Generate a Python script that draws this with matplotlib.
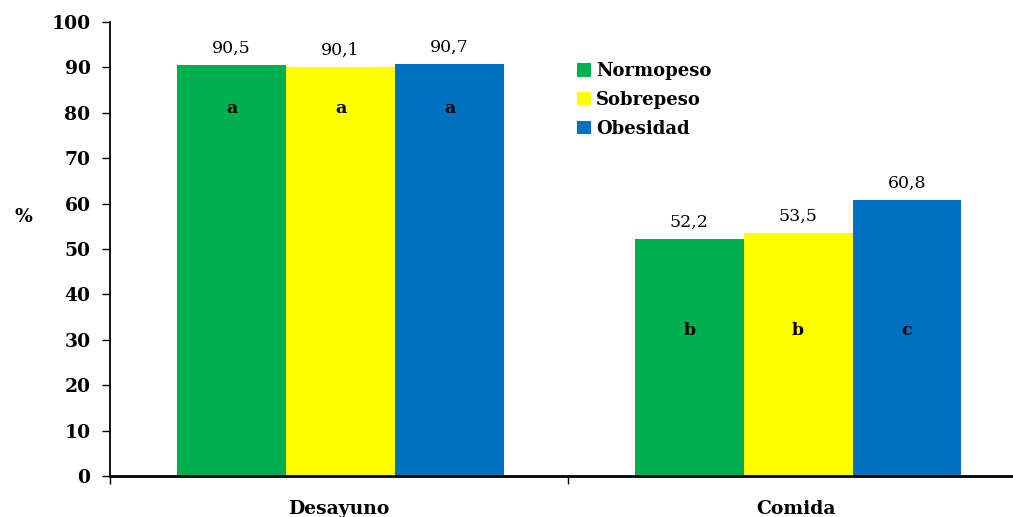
import matplotlib
matplotlib.use("Agg")
import matplotlib.pyplot as plt
import numpy as np

categories = ["Desayuno", "Comida"]
series = ["Normopeso", "Sobrepeso", "Obesidad"]
values = [
    [90.5, 52.2],
    [90.1, 53.5],
    [90.7, 60.8],
]
letters = [
    ["a", "b"],
    ["a", "b"],
    ["a", "c"],
]
colors = ["#00B050", "#FFFF00", "#0070C0"]

serif = ["DejaVu Serif"]

fig = plt.figure(figsize=(10.13, 5.17), dpi=100)
ax = fig.add_axes([110 / 1013, 1 - 476 / 517, 915 / 1013, 454 / 517])

x = np.arange(len(categories))
width = 0.238
letter_y = [81, 32]

for i, (name, vals) in enumerate(zip(series, values)):
    pos = x + (i - 1) * width + 0.004
    ax.bar(pos, vals, width, color=colors[i], label=name, zorder=2)
    for px, v, lt, ly in zip(pos, vals, letters[i], letter_y):
        ax.text(px, v + 1.8, f"{v:.1f}".replace(".", ","), ha="center", va="bottom",
                fontsize=12.5, family=serif)
        ax.text(px, ly, lt, ha="center", va="center", fontsize=12.5,
                fontweight="bold", family=serif)

ax.set_xlim(-0.5, 1.5)
ax.set_ylim(0, 100)
ax.set_yticks(np.arange(0, 101, 10))
ax.set_yticklabels([str(t) for t in range(0, 101, 10)], fontsize=13.5,
                   fontweight="bold", family=serif)
ax.set_xticks([-0.5, 0.5, 1.5])
ax.set_xticklabels([])
ax.tick_params(axis="y", direction="out", length=6, width=1, pad=8)
ax.tick_params(axis="x", direction="out", length=6, width=1)

for cx, cat in zip(x, categories):
    ax.text(cx, -0.072, cat, transform=ax.get_xaxis_transform(), ha="center",
            va="center", fontsize=13.5, fontweight="bold", family=serif)

ax.text(-0.095, 57, "%", transform=ax.get_yaxis_transform(), ha="center",
        va="center", fontsize=13.5, fontweight="bold", family=serif)

ax.spines["top"].set_visible(False)
ax.spines["right"].set_visible(False)
ax.spines["left"].set_linewidth(1.3)
ax.spines["bottom"].set_linewidth(2)

leg = fig.legend(loc="upper left", bbox_to_anchor=(561 / 1013, 1 - 46 / 517),
                 frameon=False, handlelength=0.75, handleheight=0.75,
                 handletextpad=0.3, labelspacing=0.6,
                 prop={"family": serif, "weight": "bold", "size": 13})

fig.savefig("out.png", dpi=100)
